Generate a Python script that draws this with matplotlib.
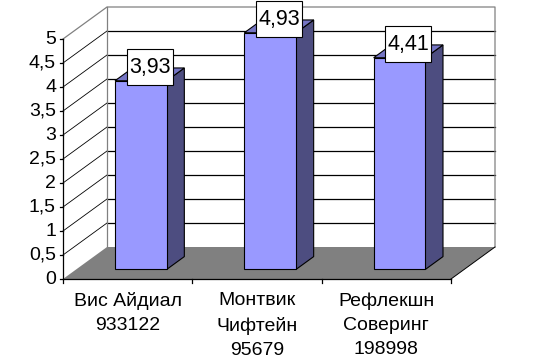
import matplotlib
matplotlib.use("Agg")
import matplotlib.pyplot as plt
from matplotlib.patches import Polygon, Rectangle

# ---- data ----
categories = ["Вис Айдиал\n933122", "Монтвик\nЧифтейн\n95679", "Рефлекшн\nСоверинг\n198998"]
values = [3.93, 4.93, 4.41]
value_labels = ["3,93", "4,93", "4,41"]
y_ticks = [0, 0.5, 1, 1.5, 2, 2.5, 3, 3.5, 4, 4.5, 5]
y_tick_labels = ["0", "0,5", "1", "1,5", "2", "2,5", "3", "3,5", "4", "4,5", "5"]

# ---- style ----
FRONT = "#9999FF"
SIDE = "#4D4D80"
TOP = "#7575C4"
FLOOR = "#808080"
WALL_EDGE = "#808080"
FONT = "Liberation Sans"

W, H, DPI = 533, 360, 100
fig = plt.figure(figsize=(W / DPI, H / DPI), dpi=DPI)
ax = fig.add_axes([0, 0, 1, 1])
ax.set_axis_off()

n = len(categories)
ymax = 5.0
# pixel geometry of the front plane
x0_px, x1_px = 63.0, 451.0
y0_px, y5_px = 279.0, 39.0
SX = (x1_px - x0_px) / n          # px per category
SY = (y0_px - y5_px) / ymax       # px per value unit
ax.set_xlim(-x0_px / SX, (W - x0_px) / SX)
ax.set_ylim(-(H - y0_px) / SY, y0_px / SY)

# oblique depth offset (full depth), in data units
DX = 44.0 / SX
DY = 32.0 / SY


def P(x, y, d):
    return (x + d * DX, y + d * DY)


# floor
floor = Polygon([P(0, 0, 0), P(n, 0, 0), P(n, 0, 1), P(0, 0, 1)],
                closed=True, fc=FLOOR, ec="none", zorder=1)
ax.add_patch(floor)
ax.plot(*zip(P(0, 0, 0), P(n, 0, 0)), color="black", lw=0.9, zorder=2)
ax.plot(*zip(P(n, 0, 0), P(n, 0, 1)), color="black", lw=0.7, zorder=2)

# back wall gridlines and left wall diagonals
for t in y_ticks[1:-1]:
    ax.plot(*zip(P(0, t, 1), P(n, t, 1)), color="black", lw=0.9, zorder=1)
    ax.plot(*zip(P(0, t, 0), P(0, t, 1)), color="black", lw=0.6, zorder=1)

# wall borders
ax.plot(*zip(P(0, ymax, 0), P(0, ymax, 1), P(n, ymax, 1), P(n, 0, 1)),
        color=WALL_EDGE, lw=0.9, zorder=1)
ax.plot(*zip(P(0, 0, 1), P(0, ymax, 1)), color=WALL_EDGE, lw=0.9, zorder=1)

# value axis
ax.plot(*zip(P(0, 0, 0), P(0, ymax, 0)), color="black", lw=0.9, zorder=3)
tick_len = 3.0 / SX
for t, lab in zip(y_ticks, y_tick_labels):
    ax.plot([-tick_len, 0], [t, t], color="black", lw=0.9, zorder=3)
    ax.text(-7.0 / SX, t, lab, ha="right", va="center", fontsize=14,
            family=FONT, color="black")

# category axis ticks
for i in range(n + 1):
    ax.plot([i, i], [0, -4.0 / SY], color="black", lw=0.9, zorder=3)

for i, lab in enumerate(categories):
    ax.text(i + 0.5, -13.0 / SY, lab, ha="center", va="top", fontsize=14,
            family=FONT, color="black", linespacing=1.56)

# bars
bw = 0.4
d0, d1 = 0.3, 0.7
for i, v in enumerate(values):
    c = i + 0.5
    xl, xr = c - bw / 2, c + bw / 2
    front = [P(xl, 0, d0), P(xr, 0, d0), P(xr, v, d0), P(xl, v, d0)]
    side = [P(xr, 0, d0), P(xr, 0, d1), P(xr, v, d1), P(xr, v, d0)]
    top = [P(xl, v, d0), P(xr, v, d0), P(xr, v, d1), P(xl, v, d1)]
    ax.add_patch(Polygon(side, closed=True, fc=SIDE, ec="black", lw=0.8, zorder=4))
    ax.add_patch(Polygon(top, closed=True, fc=TOP, ec="black", lw=0.8, zorder=4))
    ax.add_patch(Polygon(front, closed=True, fc=FRONT, ec="black", lw=0.8, zorder=5))

    # data label box
    cx, cy = P(c, v, 0.5)
    cy += 7.0 / SY
    bw_px, bh_px = 46.0, 36.0
    ax.add_patch(Rectangle((cx - bw_px / 2 / SX, cy - bh_px / 2 / SY),
                           bw_px / SX, bh_px / SY, fc="white", ec="black",
                           lw=0.8, zorder=6))
    ax.text(cx, cy, value_labels[i], ha="center", va="center", fontsize=15.5,
            family=FONT, color="black", zorder=7)

fig.savefig("out.png", dpi=DPI)
